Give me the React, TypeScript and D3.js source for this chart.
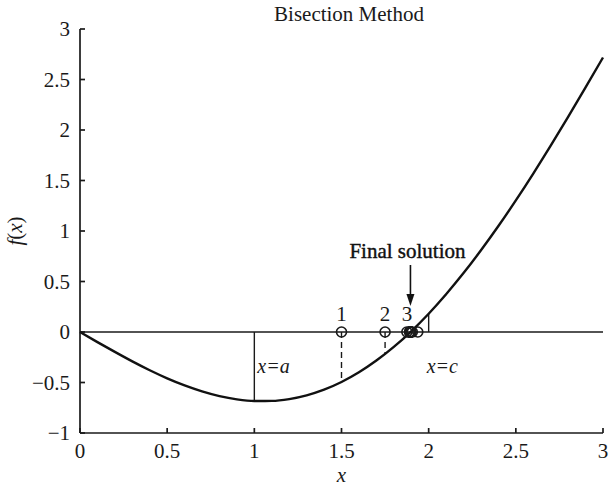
import * as d3 from "d3";

const W = 612;
const H = 486;
const M = { left: 80, right: 9, top: 29, bottom: 53 };

// f(x), every 0.1
const curveX = [0, 0.1, 0.2, 0.3, 0.4, 0.5, 0.6, 0.7, 0.8, 0.9, 1.0, 1.1, 1.2, 1.3, 1.4, 1.5, 1.6, 1.7, 1.8, 1.9, 2.0, 2.1, 2.2, 2.3, 2.4, 2.5, 2.6, 2.7, 2.8, 2.9, 3.0];
const curveY = [0, -0.1, -0.197, -0.291, -0.379, -0.459, -0.529, -0.588, -0.635, -0.667, -0.683, -0.682, -0.664, -0.627, -0.571, -0.495, -0.399, -0.283, -0.148, 0.007, 0.181, 0.374, 0.583, 0.809, 1.049, 1.303, 1.569, 1.845, 2.13, 2.422, 2.718];

const xTicks = [0, 0.5, 1, 1.5, 2, 2.5, 3];
const yTicks = [-1, -0.5, 0, 0.5, 1, 1.5, 2, 2.5, 3];

// bisection midpoints (circles on the axis)
const midX = [1.5, 1.75, 1.875, 1.9375, 1.90625, 1.890625, 1.8984, 1.8945, 1.8965, 1.8955, 1.896, 1.8958, 1.8932, 1.8915];
const iterLabels = ["1", "2", "3"];
// dashed drops from the first midpoints down to the curve
const dashX = [1.5, 1.75];
const dashY = [-0.495, -0.218];
// bracket ends a and c
const bracketX = [1, 2];
const bracketY = [-0.683, 0.181];
const bracketLabels = ["a", "c"];
const solutionX = 1.8955;

const FONT = "'Liberation Serif', 'Times New Roman', serif";
const INK = "#1a1a1a";

export default function App() {
  const x = d3.scaleLinear().domain([0, 3]).range([M.left, W - M.right]);
  const y = d3.scaleLinear().domain([-1, 3]).range([H - M.bottom, M.top]);

  const line = d3
    .line<number>()
    .x((_, i) => x(curveX[i]))
    .y((d) => y(d))
    .curve(d3.curveMonotoneX);

  const x0 = x(0);
  const x3 = x(3);
  const yBot = y(-1);
  const yTop = y(3);
  const yZero = y(0);

  return (
    <svg
      width={W}
      height={H}
      style={{ position: "absolute", left: 0, top: 0, background: "#fff" }}
      fontFamily={FONT}
    >
      {/* title */}
      <text x={349} y={21} textAnchor="middle" fontSize={21} fill={INK}>
        Bisection Method
      </text>

      {/* axes */}
      <g stroke={INK} strokeWidth={1.7} fill="none">
        <line x1={x0} x2={x0} y1={yTop} y2={yBot} />
        <line x1={x0} x2={x3} y1={yBot} y2={yBot} />
        {yTicks.map((t) => (
          <line key={"yt" + t} x1={x0} x2={x0 + 5} y1={y(t)} y2={y(t)} />
        ))}
        {xTicks.map((t) => (
          <line key={"xt" + t} x1={x(t)} x2={x(t)} y1={yBot} y2={yBot - 5} />
        ))}
      </g>
      {yTicks.map((t) => (
        <text
          key={"yl" + t}
          x={x0 - 10}
          y={y(t) + 7}
          textAnchor="end"
          fontSize={21}
          fill={INK}
        >
          {t < 0 ? "\u2212" + Math.abs(t) : t}
        </text>
      ))}
      {xTicks.map((t) => (
        <text
          key={"xl" + t}
          x={x(t)}
          y={yBot + 25}
          textAnchor="middle"
          fontSize={21}
          fill={INK}
        >
          {t}
        </text>
      ))}
      <text x={(x0 + x3) / 2} y={H - 4} textAnchor="middle" fontSize={21} fontStyle="italic" fill={INK}>
        x
      </text>
      <text
        transform={`translate(22,${(yTop + yBot) / 2}) rotate(-90)`}
        textAnchor="middle"
        fontSize={21}
        fill={INK}
      >
        <tspan fontStyle="italic">f</tspan>(<tspan fontStyle="italic">x</tspan>)
      </text>

      {/* zero line */}
      <line x1={x0} x2={x3} y1={yZero} y2={yZero} stroke={INK} strokeWidth={1.4} />

      {/* bracket lines */}
      {bracketX.map((bx, i) => (
        <line key={"b" + i} x1={x(bx)} x2={x(bx)} y1={yZero} y2={y(bracketY[i])} stroke={INK} strokeWidth={1.4} />
      ))}
      {bracketX.map((bx, i) => (
        <text
          key={"bl" + i}
          x={x(bx) + (i === 0 ? 3 : -2)}
          y={373}
          fontSize={20}
          fontStyle="italic"
          fill={INK}
        >
          x=<tspan>{bracketLabels[i]}</tspan>
        </text>
      ))}

      {/* dashed drops */}
      {dashX.map((dx, i) => (
        <line
          key={"d" + i}
          x1={x(dx)}
          x2={x(dx)}
          y1={yZero}
          y2={y(dashY[i])}
          stroke={INK}
          strokeWidth={1.4}
          strokeDasharray="6,4"
        />
      ))}

      {/* curve */}
      <path d={line(curveY) ?? ""} fill="none" stroke="#111" strokeWidth={2.4} />

      {/* midpoints */}
      {midX.map((m, i) => (
        <circle key={"m" + i} cx={x(m)} cy={yZero} r={5} fill="none" stroke={INK} strokeWidth={1.6} />
      ))}
      {iterLabels.map((l, i) => (
        <text key={"il" + i} x={x(midX[i])} y={yZero - 11} textAnchor="middle" fontSize={21} fill={INK}>
          {l}
        </text>
      ))}

      {/* final solution annotation */}
      <text x={x(solutionX) - 3} y={258} textAnchor="middle" fontSize={21} fill="#111" stroke="#111" strokeWidth={0.4}>
        Final solution
      </text>
      <line x1={x(solutionX)} x2={x(solutionX)} y1={265} y2={296} stroke="#111" strokeWidth={1.6} />
      <path
        d={`M${x(solutionX) - 4},294 L${x(solutionX) + 4},294 L${x(solutionX)},306 Z`}
        fill="#111"
      />
    </svg>
  );
}
